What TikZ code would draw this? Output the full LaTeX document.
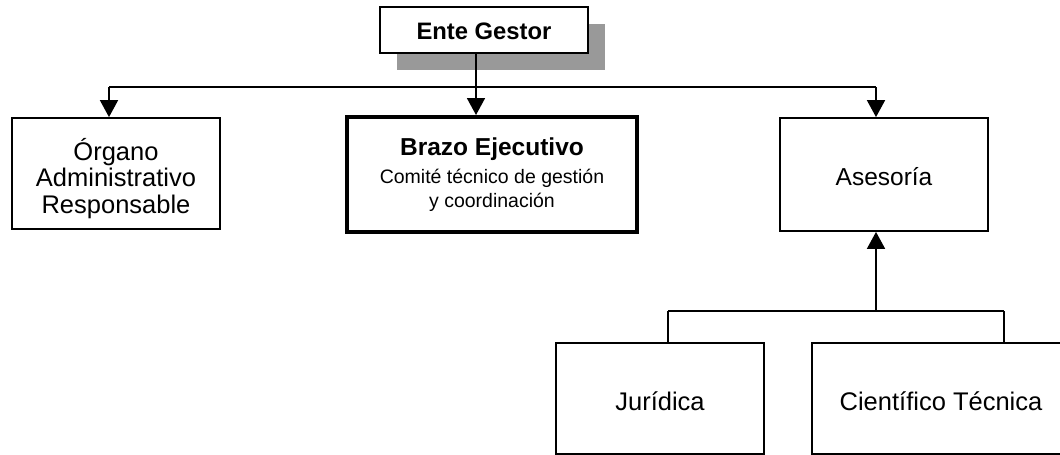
\documentclass[tikz,border=0pt]{standalone}
\usepackage{fontspec}
\setmainfont{Liberation Sans}
\usetikzlibrary{arrows.meta}
\definecolor{shadowgray}{RGB}{153,153,153}
\begin{document}
\begin{tikzpicture}[x=1pt,y=-1pt,
  box/.style={draw=black,line width=1.8pt,fill=white,rectangle,inner sep=0pt,align=center,text depth=0pt},
  conn/.style={line width=1.8pt,draw=black},
  arr/.style={conn,-{Triangle[length=17pt,width=18pt]}},
  big/.style={font=\fontsize{25.5}{25.5}\selectfont}]
\useasboundingbox (0,0) rectangle (1060,455);
% shadow and top box
\node[fill=shadowgray,inner sep=0pt,minimum width=208pt,minimum height=46pt] (shadow) at (501,47) {};
\node[box,text height=18pt,minimum width=208pt,minimum height=46pt,font=\bfseries\fontsize{23.8}{28}\selectfont] (ente) at (484,30) {Ente Gestor};
% second row
\node[box,big,text height=79pt,minimum width=208pt,minimum height=111pt] (organo) at (116,173.5)
  {\begin{tabular}[b]{@{}c@{}}Órgano\\Administrativo\\Responsable\end{tabular}};
\node[box,line width=4pt,text height=65pt,minimum width=290pt,minimum height=115pt,font=\fontsize{19.5}{24}\selectfont] (brazo) at (492,174.5)
  {\begin{tabular}[b]{@{}c@{}}{\bfseries\fontsize{24.5}{28}\selectfont Brazo Ejecutivo}\\[4pt]Comité técnico de gestión\\y coordinación\end{tabular}};
\node[box,text height=21pt,font=\fontsize{24.5}{28}\selectfont,minimum width=208pt,minimum height=113pt] (asesoria) at (884,174.5) {Asesoría};
% bottom row
\node[box,big,text height=23pt,minimum width=208pt,minimum height=111pt] (juridica) at (660,398.5) {Jurídica};
\node[box,big,text height=23pt,minimum width=258pt,minimum height=111pt] (cientifico) at (941,398.5) {Científico Técnica};
% top connectors
\coordinate (busL) at (109,87);
\coordinate (busM) at (476,87);
\coordinate (busR) at (876,87);
\draw[conn] (busL) -- (busR);
\draw[arr] (ente.south -| busM) -- (busM |- brazo.north);
\draw[arr] (busL) -- (busL |- organo.north);
\draw[arr] (busR) -- (busR |- asesoria.north);
% bottom connectors
\coordinate (lowL) at (668,311);
\coordinate (lowM) at (876,311);
\coordinate (lowR) at (1004,311);
\draw[conn] (lowL) -- (lowR);
\draw[conn] (lowL) -- (lowL |- juridica.north);
\draw[conn] (lowR) -- (lowR |- cientifico.north);
\draw[arr] (lowM) -- (lowM |- asesoria.south);
\end{tikzpicture}
\end{document}
